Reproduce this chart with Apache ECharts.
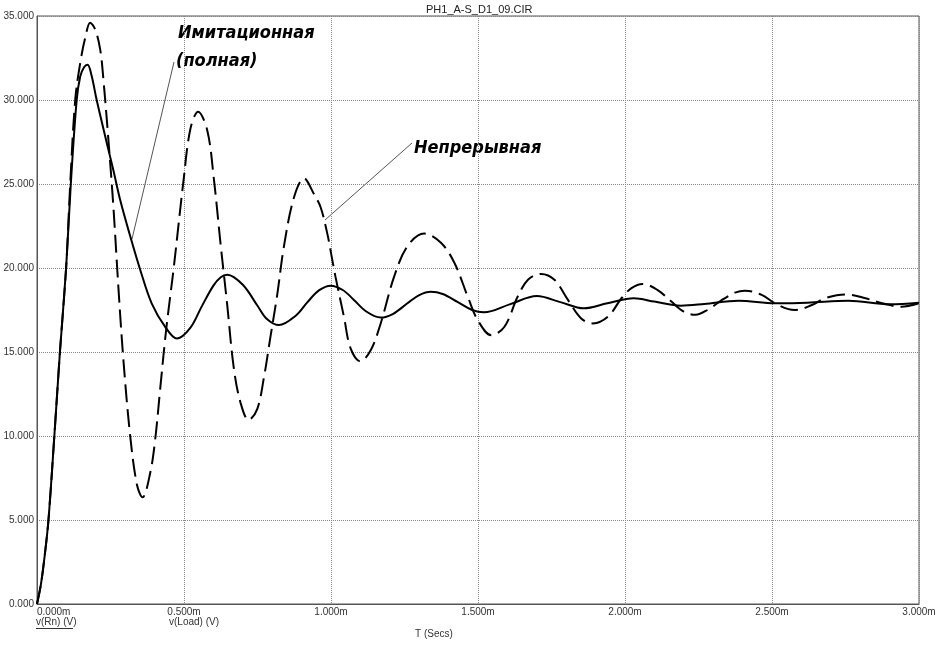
<!DOCTYPE html>
<html>
<head>
<meta charset="utf-8">
<script src="https://cdn.jsdelivr.net/npm/echarts@6/dist/echarts.min.js"></script>
<style>html,body{margin:0;padding:0;background:#fff}#c{width:941px;height:645px}</style>
</head>
<body>
<div id="c"></div>
<script>
// Time in ms
var simTime = [0,0.0136,0.027,0.039,0.059,0.078,0.099,0.115,0.135,0.147,0.160,0.172,0.185,0.203,0.238,0.260,0.283,0.317,0.351,0.390,0.436,0.476,0.522,0.560,0.600,0.625,0.647,0.700,0.750,0.780,0.823,0.880,0.920,0.960,0.999,1.040,1.078,1.120,1.169,1.210,1.260,1.300,1.340,1.380,1.430,1.480,1.520,1.610,1.700,1.780,1.860,1.940,2.030,2.100,2.190,2.270,2.386,2.510,2.620,2.760,2.900,3.000];
var simValue = [0,1.2,3.0,5.0,10.0,15.0,20.0,25.0,30.0,31.4,31.95,32.1,31.5,30.0,27.4,25.8,24.05,21.9,19.9,17.9,16.5,15.8,16.45,17.7,18.95,19.45,19.6,19.0,17.75,17.0,16.6,17.16,17.97,18.68,18.95,18.69,18.1,17.41,17.05,17.26,17.9,18.39,18.59,18.45,17.98,17.5,17.36,17.85,18.33,17.97,17.6,17.9,18.2,18.0,17.76,17.86,18.05,17.9,17.93,18.05,17.84,17.93];

var contTime = [0,0.0136,0.027,0.039,0.059,0.078,0.099,0.113,0.130,0.147,0.164,0.181,0.198,0.215,0.226,0.243,0.260,0.277,0.294,0.317,0.340,0.359,0.385,0.402,0.419,0.436,0.448,0.465,0.499,0.522,0.548,0.579,0.601,0.624,0.647,0.669,0.692,0.720,0.749,0.772,0.794,0.817,0.840,0.874,0.908,0.942,0.965,0.988,1.000,1.015,1.044,1.067,1.100,1.135,1.169,1.215,1.260,1.317,1.374,1.420,1.465,1.499,1.545,1.590,1.635,1.670,1.715,1.760,1.806,1.851,1.891,1.942,1.988,2.022,2.060,2.110,2.158,2.200,2.240,2.280,2.330,2.374,2.408,2.465,2.510,2.556,2.580,2.636,2.680,2.749,2.818,2.874,2.940,3.000];
var contValue = [0,1.2,3.0,5.0,10.0,15.0,20.0,25.0,30.0,32.2,33.7,34.6,34.2,33.0,31.2,27.6,23.6,18.8,14.5,10.0,7.1,6.35,7.8,9.8,12.8,15.8,17.6,20.0,25.3,28.3,29.3,28.2,25.4,21.5,17.8,14.1,12.0,10.95,11.6,13.5,15.9,18.4,21.3,24.2,25.34,24.4,23.6,22.0,20.9,19.5,17.1,15.2,14.45,15.1,16.7,19.5,21.3,22.05,21.5,20.3,18.3,16.9,16.0,16.5,18.3,19.3,19.65,19.3,18.1,17.0,16.7,17.1,18.2,18.8,19.05,18.7,18.0,17.4,17.22,17.5,18.1,18.53,18.65,18.4,17.9,17.55,17.5,17.8,18.2,18.43,18.2,17.9,17.7,17.9];

var xTicks = {min:0, max:3, interval:0.5};
var yTicks = {min:0, max:35, interval:5};
var titleText = 'PH1_A-S_D1_09.CIR';
var xAxisTitle = 'T (Secs)';
var traceLabels = ['v(Rn) (V)', 'v(Load) (V)'];
var annotations = ['Имитационная', '(полная)', 'Непрерывная'];

function zip(a,b){ var r=[]; for(var i=0;i<a.length;i++) r.push([a[i],b[i]]); return r; }

var chart = echarts.init(document.getElementById('c'), null, {renderer:'canvas'});
var lblFont = {fontFamily:'Liberation Sans, Arial, sans-serif', fontSize:10, color:'#333'};
var annFont = {fontFamily:'DejaVu Sans Condensed, DejaVu Sans, sans-serif', fontSize:18, fontWeight:'bold', fontStyle:'italic', fill:'#000'};

chart.setOption({
  animation:false,
  backgroundColor:'#fff',
  grid:{left:37, right:22, top:16, bottom:41, show:true, borderColor:'#555', borderWidth:1, backgroundColor:'transparent'},
  xAxis:{type:'value', min:xTicks.min, max:xTicks.max, interval:xTicks.interval,
    axisLine:{show:true, onZero:false, lineStyle:{color:'#555', width:1}},
    axisTick:{show:false},
    axisLabel:Object.assign({margin:3, alignMinLabel:'left', formatter:function(v){return v.toFixed(3)+'m';}}, lblFont),
    splitLine:{show:true, lineStyle:{color:'#888', type:'dotted', width:1}}},
  yAxis:{type:'value', min:yTicks.min, max:yTicks.max, interval:yTicks.interval,
    axisLine:{show:true, onZero:false, lineStyle:{color:'#555', width:1}},
    axisTick:{show:false},
    axisLabel:Object.assign({margin:3, formatter:function(v){return v.toFixed(3);}}, lblFont),
    splitLine:{show:true, lineStyle:{color:'#888', type:'dotted', width:1}}},
  series:[
    {type:'line', name:traceLabels[0], data:zip(simTime, simValue), showSymbol:false, smooth:0.35,
     lineStyle:{color:'#000', width:2}, z:3},
    {type:'line', name:traceLabels[1], data:zip(contTime, contValue), showSymbol:false, smooth:0.35,
     lineStyle:{color:'#000', width:2, type:[18,7]}, z:2}
  ],
  graphic:[
    {type:'text', x:426, y:4, style:{text:titleText, fontFamily:'Liberation Sans, Arial, sans-serif', fontSize:11, fill:'#222'}},
    {type:'text', x:36, y:617, style:{text:traceLabels[0], fontFamily:'Liberation Sans, Arial, sans-serif', fontSize:10, fill:'#333'}},
    {type:'line', shape:{x1:36, y1:628.5, x2:73, y2:628.5}, style:{stroke:'#333', lineWidth:1}},
    {type:'text', x:169, y:617, style:{text:traceLabels[1], fontFamily:'Liberation Sans, Arial, sans-serif', fontSize:10, fill:'#333'}},
    {type:'text', x:415, y:629, style:{text:xAxisTitle, fontFamily:'Liberation Sans, Arial, sans-serif', fontSize:10, fill:'#333'}},
    {type:'text', x:178, y:24, style:Object.assign({text:annotations[0]}, annFont)},
    {type:'text', x:176, y:52, style:Object.assign({text:annotations[1]}, annFont)},
    {type:'text', x:414, y:139, style:Object.assign({text:annotations[2]}, annFont)},
    {type:'line', shape:{x1:174, y1:62, x2:132, y2:239}, style:{stroke:'#555', lineWidth:1}},
    {type:'line', shape:{x1:412, y1:143, x2:325, y2:220}, style:{stroke:'#555', lineWidth:1}}
  ]
});
</script>
</body>
</html>
